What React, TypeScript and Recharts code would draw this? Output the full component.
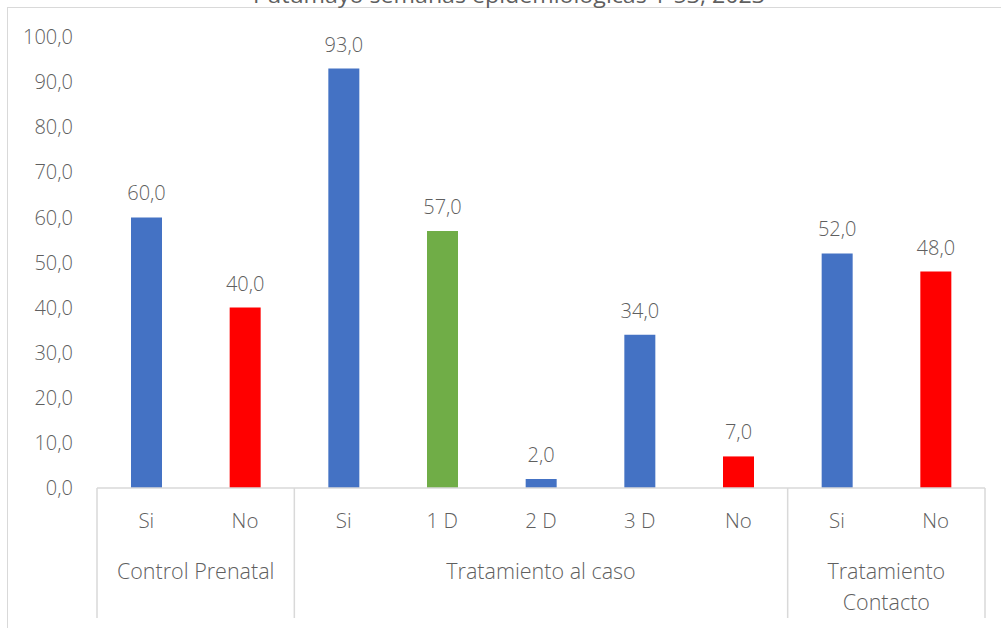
import { BarChart, Bar, XAxis, YAxis, Cell, LabelList } from 'recharts'

const title = 'Putumayo semanas epidemiológicas 1-53, 2023'

const subLabels = ['Si', 'No', 'Si', '1 D', '2 D', '3 D', 'No', 'Si', 'No']
const values = [60, 40, 93, 57, 2, 34, 7, 52, 48]
const groupOf = [0, 0, 1, 1, 1, 1, 1, 2, 2]
const groupLabels = [['Control Prenatal'], ['Tratamiento al caso'], ['Tratamiento', 'Contacto']]
const yTicks = [0, 10, 20, 30, 40, 50, 60, 70, 80, 90, 100]

const BLUE = '#4472C4'
const RED = '#FF0000'
const GREEN = '#70AD47'
const barColors = [BLUE, RED, BLUE, GREEN, BLUE, BLUE, RED, BLUE, RED]

const data = subLabels.map((s, i) => ({ key: `${i}`, sub: s, value: values[i], group: groupOf[i] }))

const TEXT = '#5f5f5f'
const LINE = '#d9d9d9'
const FONT = '"Open Sans", "Noto Sans", sans-serif'

const fmt = (v: any) => Number(v).toFixed(1).replace('.', ',')

const PLOT_W = 888

const CategoryTick = (props: any) => {
  const { x, y, payload } = props
  const i = payload.index ?? Number(payload.value)
  const band = payload.offset ? payload.offset * 2 : PLOT_W / subLabels.length
  const g = groupOf[i]
  const first = i === 0 || groupOf[i - 1] !== g
  const count = groupOf.filter((v) => v === g).length
  const groupCenter = x - band / 2 + (count * band) / 2
  return (
    <g>
      <text x={x} y={y + 40} textAnchor="middle" fill={TEXT} fontSize={20.5} fontFamily={FONT} fontWeight={300}>
        {subLabels[i]}
      </text>
      {first && (
        <>
          <line x1={x - band / 2} x2={x - band / 2} y1={y} y2={y + 130} stroke={LINE} strokeWidth={1.5} />
          {groupLabels[g].map((t, k) => (
            <text key={k} x={groupCenter} y={y + 91 + k * 31} textAnchor="middle" fill={TEXT} fontSize={21.5} fontFamily={FONT} fontWeight={300}>
              {t}
            </text>
          ))}
        </>
      )}
      {i === subLabels.length - 1 && (
        <line x1={x + band / 2} x2={x + band / 2} y1={y} y2={y + 130} stroke={LINE} strokeWidth={1.5} />
      )}
    </g>
  )
}

export default function App() {
  return (
    <div style={{ position: 'fixed', left: 0, top: 0, width: 1001, height: 628, overflow: 'hidden', background: '#fff' }}>
      <div style={{ position: 'absolute', left: 7, top: 7, width: 1100, height: 700, border: `1.5px solid ${LINE}` }} />
      <svg width={1001} height={20} style={{ position: 'absolute', left: 0, top: 0 }}>
        <text x={509} y={3} textAnchor="middle" fill={TEXT} fontSize={21} fontFamily={FONT} textLength={512} lengthAdjust="spacingAndGlyphs">
          {title}
        </text>
      </svg>
      <div style={{ position: 'absolute', left: 0, top: 0 }}>
        <BarChart width={1001} height={628} data={data} margin={{ top: 37, right: 16, left: 0, bottom: 0 }} barSize={31}>
          <XAxis
            dataKey="key"
            height={140}
            interval={0}
            tickSize={0}
            tickMargin={0}
            tickLine={false}
            axisLine={{ stroke: LINE, strokeWidth: 1.5 }}
            tick={<CategoryTick />}
          />
          <YAxis
            width={97}
            domain={[0, 100]}
            ticks={yTicks}
            interval={0}
            axisLine={false}
            tickLine={false}
            tickSize={0}
            tickMargin={24}
            tickFormatter={fmt}
            tick={{ fill: TEXT, fontSize: 20, fontFamily: FONT, fontWeight: 300 }}
          />
          <Bar dataKey="value" isAnimationActive={false}>
            {data.map((d, i) => (
              <Cell key={d.key} fill={barColors[i]} />
            ))}
            <LabelList dataKey="value" position="top" offset={17} formatter={fmt} fill={TEXT} fontSize={20} fontFamily={FONT} fontWeight={300} />
          </Bar>
        </BarChart>
      </div>
    </div>
  )
}
